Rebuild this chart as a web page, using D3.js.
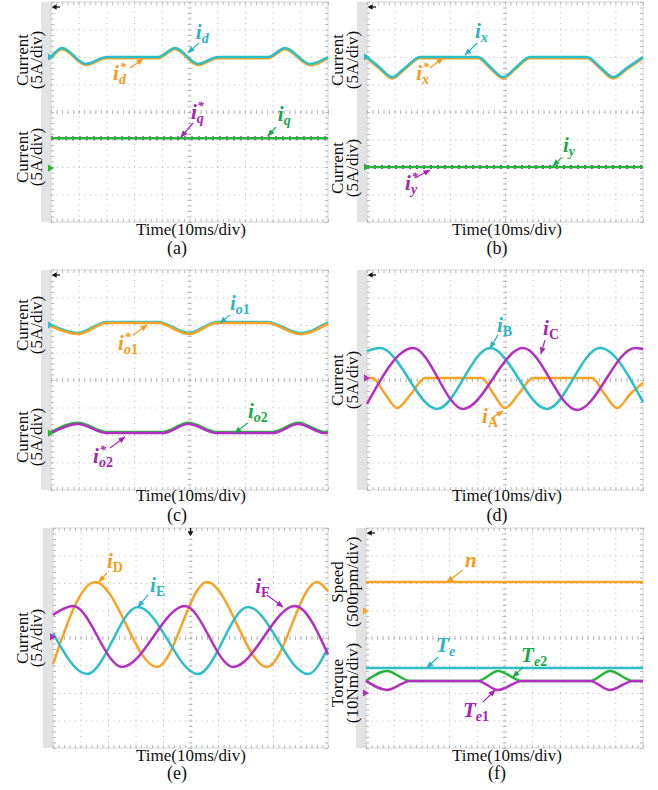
<!DOCTYPE html>
<html>
<head>
<meta charset="utf-8">
<script src="https://cdn.jsdelivr.net/npm/d3@7"></script>
<style>
body { margin: 0; background: #fff; }
svg { display: block; }
text { font-family: "Liberation Serif", "Times New Roman", serif; }
</style>
</head>
<body>
<div id="chart"></div>
<script>
// waveforms: [time (div), level (div from screen centre)]
const id_a = [[0,2.0],[0.4,2.33],[1.26,1.75],[2.02,2.0],[3.86,2.0],[4.48,2.33],[5.31,1.75],[6.03,2.0],[7.83,2.0],[8.45,2.33],[9.35,1.75],[10,2.0]];
const iq_a = [[0,-0.95],[10,-0.95]];

const ix_b = [[0,2.0],[0.45,1.63],[0.91,1.27],[1.4,1.63],[1.92,2.0],[4.02,2.0],[4.47,1.63],[4.93,1.27],[5.4,1.63],[5.9,2.0],[7.97,2.0],[8.45,1.63],[8.91,1.27],[9.45,1.63],[10,2.0]];
const iy_b = [[0,-2.0],[10,-2.0]];

const io1_c = [[0,1.95],[0.97,1.67],[2.02,2.07],[3.86,2.07],[4.98,1.67],[5.99,2.07],[7.8,2.07],[8.99,1.67],[10,2.05]];
const io2_c = [[0,-1.93],[0.97,-1.6],[2.02,-1.93],[4.04,-1.93],[4.95,-1.6],[5.99,-1.93],[8.0,-1.93],[8.92,-1.6],[9.9,-1.93],[10,-1.93]];

const iA_d = [[0,0.07],[0.2,0.07],[0.65,-0.5],[1.09,-1.02],[1.6,-0.5],[2.1,0.07],[4.17,0.07],[4.58,-0.5],[5.0,-1.02],[5.5,-0.5],[6.01,0.07],[8.15,0.07],[8.6,-0.5],[9.06,-1.02],[9.55,-0.5],[10,-0.1]];
const iB_d = [[0,1.05],[0.47,1.16],[2.54,-1.05],[4.46,1.16],[6.52,-1.05],[8.44,1.16],[10,-0.8]];
const iC_d = [[0,-0.87],[1.67,1.16],[3.48,-1.05],[5.65,1.16],[7.61,-1.09],[9.72,1.16],[10,1.12]];

const iD_e = [[0,-0.95],[1.53,2.04],[3.78,-1.05],[5.6,2.04],[7.78,-1.05],[9.6,2.04],[10,1.7]];
const iE_e = [[0,0.18],[1.24,-1.31],[3.09,1.13],[5.27,-1.31],[7.09,1.13],[9.27,-1.31],[10,-0.36]];
const iF_e = [[0,0.84],[0.73,1.16],[2.51,-1.05],[4.8,1.16],[6.55,-1.05],[8.8,1.16],[10,-0.6]];

const n_f = [[0,2.04],[10,2.04]];
const Te_f = [[0,-1.09],[10,-1.09]];
const Te1_f = [[0,-1.56],[0.76,-1.89],[1.59,-1.56],[4.04,-1.56],[4.77,-1.89],[5.63,-1.56],[8.09,-1.56],[8.81,-1.89],[9.64,-1.56],[10,-1.56]];
const Te2_f = [[0,-1.56],[0.76,-1.2],[1.59,-1.56],[4.04,-1.56],[4.77,-1.2],[5.63,-1.56],[8.09,-1.56],[8.81,-1.2],[9.64,-1.56],[10,-1.56]];

const xLabel = "Time(10ms/div)";
const captions = ["(a)","(b)","(c)","(d)","(e)","(f)"];

const C = { cyan: "#2cbfc8", orange: "#f7a325", magenta: "#b22fc1", green: "#27b53c" };
const L = { cyan: "#2ab3c4", orange: "#f59a1c", magenta: "#a425b4", green: "#1aa84a" };

const W = 658, H = 790;
const svg = d3.select("#chart").append("svg").attr("width", W).attr("height", H);

// arrow heads, one per colour
const defs = svg.append("defs");
Object.keys(L).forEach(k => {
  defs.append("marker").attr("id", "ah-" + k)
    .attr("viewBox", "0 0 10 10").attr("refX", 9).attr("refY", 5)
    .attr("markerWidth", 6).attr("markerHeight", 6).attr("orient", "auto")
    .append("path").attr("d", "M0,1 L10,5 L0,9 z").attr("fill", L[k]);
});

const left = { x0: 51, x1: 328, lab1: 28, lab2: 42, tx: 191, cx: 177 };
const right = { x0: 367, x1: 643, lab1: 343, lab2: 358, tx: 507, cx: 497 };

const panels = [
  { ...left, y0: 2, y1: 222, ty: 235, cy: 254, cap: captions[0], trig: "left",
    ylab: [{ t: ["Current","(5A/div)"], c: 60 }, { t: ["Current","(5A/div)"], c: 157 }],
    traces: [{ d: id_a, c: "orange", dy: 1.3 }, { d: id_a, c: "cyan" }, { d: iq_a, c: "magenta", w: 4, dash: "2,5" }, { d: iq_a, c: "green" }],
    gnd: [{ v: 2.0, c: "cyan" }, { v: -2.04, c: "green" }],
    tags: [
      { m: "i", s: [["d",1]], c: "cyan", at: [5.23,2.65], a0: [5.34,2.51], a1: [4.95,2.15] },
      { m: "i", s: [["d",1]], star: 1, c: "orange", at: [2.24,1.16], a0: [2.85,1.6], a1: [3.32,1.93] },
      { m: "i", s: [["q",1]], star: 1, c: "magenta", at: [5.05,-0.25], a0: [5.13,-0.4], a1: [4.69,-0.91] },
      { m: "i", s: [["q",1]], c: "green", at: [8.19,-0.33], a0: [8.12,-0.55], a1: [7.83,-0.87] }
    ] },
  { ...right, y0: 2, y1: 222, ty: 235, cy: 254, cap: captions[1], trig: "left",
    ylab: [{ t: ["Current","(5A/div)"], c: 60 }, { t: ["Current","(5A/div)"], c: 168 }],
    traces: [{ d: ix_b, c: "orange", dy: 1.3 }, { d: ix_b, c: "cyan" }, { d: iy_b, c: "magenta", w: 4, dash: "2,5" }, { d: iy_b, c: "green" }],
    gnd: [{ v: 2.0, c: "cyan" }, { v: -2.0, c: "green" }],
    tags: [
      { m: "i", s: [["x",1]], c: "cyan", at: [3.91,2.69], a0: [3.99,2.51], a1: [3.55,2.07] },
      { m: "i", s: [["x",1]], star: 1, c: "orange", at: [1.78,1.16], a0: [2.28,1.6], a1: [2.75,1.96] },
      { m: "i", s: [["y",1]], c: "green", at: [7.1,-1.45], a0: [7.07,-1.64], a1: [6.74,-1.96] },
      { m: "i", s: [["y",1]], star: 1, c: "magenta", at: [1.38,-2.84], a0: [1.74,-2.4], a1: [2.28,-2.11] }
    ] },
  { ...left, y0: 270, y1: 490, ty: 501, cy: 521, cap: captions[2], trig: "left",
    ylab: [{ t: ["Current","(5A/div)"], c: 325 }, { t: ["Current","(5A/div)"], c: 437 }],
    traces: [{ d: io1_c, c: "cyan", dy: -1.2 }, { d: io1_c, c: "orange" }, { d: io2_c, c: "green", dy: -1.2 }, { d: io2_c, c: "magenta" }],
    gnd: [{ v: 2.0, c: "cyan" }, { v: -1.93, c: "green" }],
    tags: [
      { m: "i", s: [["o",1],["1",0]], c: "cyan", at: [6.46,2.55], a0: [6.46,2.36], a1: [6.1,2.07] },
      { m: "i", s: [["o",1],["1",0]], star: 1, c: "orange", at: [2.42,1.09], a0: [2.96,1.64], a1: [3.47,2.0] },
      { m: "i", s: [["o",1],["2",0]], c: "green", at: [7.11,-1.38], a0: [7.11,-1.56], a1: [6.64,-1.93] },
      { m: "i", s: [["o",1],["2",0]], star: 1, c: "magenta", at: [1.52,-3.02], a0: [2.13,-2.47], a1: [2.67,-2.07] }
    ] },
  { ...right, y0: 270, y1: 490, ty: 501, cy: 521, cap: captions[3], trig: "left",
    ylab: [{ t: ["Current","(5A/div)"], c: 380 }],
    traces: [{ d: iA_d, c: "orange" }, { d: iB_d, c: "cyan" }, { d: iC_d, c: "magenta" }],
    gnd: [{ v: 0.07, c: "magenta" }],
    tags: [
      { m: "i", s: [["B",0]], c: "cyan", at: [4.71,1.75], a0: [4.75,1.64], a1: [4.46,1.16] },
      { m: "i", s: [["C",0]], c: "magenta", at: [6.38,1.64], a0: [6.45,1.45], a1: [6.3,0.95] },
      { m: "i", s: [["A",0]], c: "orange", at: [4.17,-1.56], a0: [4.57,-1.35], a1: [4.93,-1.13] }
    ] },
  { ...left, x0: 53, y0: 528, y1: 748, ty: 761, cy: 779, cap: captions[4], trig: "top",
    ylab: [{ t: ["Current","(5A/div)"], c: 638 }],
    traces: [{ d: iD_e, c: "orange" }, { d: iE_e, c: "cyan" }, { d: iF_e, c: "magenta" }],
    gnd: [{ v: 0.04, c: "magenta" }],
    tags: [
      { m: "i", s: [["D",0]], c: "orange", at: [1.96,2.55], a0: [1.96,2.36], a1: [1.67,2.04] },
      { m: "i", s: [["E",0]], c: "cyan", at: [3.53,1.67], a0: [3.45,1.56], a1: [3.09,1.13] },
      { m: "i", s: [["F",0]], c: "magenta", at: [7.35,1.64], a0: [7.78,1.56], a1: [8.36,1.13] }
    ] },
  { ...right, x0: 366, y0: 528, y1: 748, ty: 761, cy: 779, cap: captions[5], trig: "left",
    ylab: [{ t: ["Speed","(500rpm/div)"], c: 582 }, { t: ["Torque","(10Nm/div)"], c: 683 }],
    traces: [{ d: n_f, c: "orange" }, { d: Te_f, c: "cyan" }, { d: Te2_f, c: "green" }, { d: Te1_f, c: "magenta" }],
    gnd: [{ v: 0.98, c: "orange" }, { v: -2.0, c: "magenta" }],
    tags: [
      { m: "n", s: [], c: "orange", at: [3.57,2.58], a0: [3.5,2.47], a1: [2.92,2.04] },
      { m: "T", s: [["e",1]], c: "cyan", at: [2.53,-0.51], a0: [2.6,-0.69], a1: [2.2,-1.09] },
      { m: "T", s: [["e",1],["2",0]], c: "green", at: [5.6,-0.87], a0: [5.67,-1.05], a1: [5.31,-1.42] },
      { m: "T", s: [["e",1],["1",0]], c: "magenta", at: [3.5,-2.87], a0: [4.22,-2.33], a1: [4.66,-1.89] }
    ] }
];

const gridCol = "#b9b9b9";

panels.forEach(p => {
  const x = d3.scaleLinear().domain([0, 10]).range([p.x0, p.x1]);
  const y = d3.scaleLinear().domain([-4, 4]).range([p.y1, p.y0]);
  const h = p.y1 - p.y0, w = p.x1 - p.x0;
  const g = svg.append("g");
  const step = w / 50;

  // grey strip at the left of the screen
  g.append("rect").attr("x", p.x0 - 10).attr("y", p.y0).attr("width", 10).attr("height", h).attr("fill", "#e3e3e3");
  g.append("rect").attr("x", p.x0).attr("y", p.y0).attr("width", w).attr("height", h)
    .attr("fill", "none").attr("stroke", "#d6d6d6").attr("stroke-width", 1);

  const clean = s => { s.select(".domain").remove(); s.selectAll("text").remove(); s.selectAll("line").attr("stroke", gridCol); };

  // dotted graticule
  g.append("g").attr("transform", `translate(0,${p.y1})`)
    .call(d3.axisBottom(x).tickValues(d3.range(1, 10)).tickSize(-h))
    .call(clean).call(s => s.selectAll("line").attr("stroke-dasharray", `1,${(h / 40 - 1).toFixed(2)}`));
  g.append("g").attr("transform", `translate(${p.x0},0)`)
    .call(d3.axisLeft(y).tickValues(d3.range(-3, 4)).tickSize(-w))
    .call(clean).call(s => s.selectAll("line").attr("stroke-dasharray", `1,${(step - 1).toFixed(2)}`));

  // minor ticks on the centre cross and the frame
  const minorX = d3.range(0, 10.001, 0.2), minorY = d3.range(-4, 4.001, 0.2);
  g.append("g").attr("transform", `translate(0,${y(0) - 2})`).call(d3.axisBottom(x).tickValues(minorX).tickSize(4)).call(clean);
  g.append("g").attr("transform", `translate(${x(5) - 2},0)`).call(d3.axisRight(y).tickValues(minorY).tickSize(4)).call(clean);
  g.append("g").attr("transform", `translate(0,${p.y0})`).call(d3.axisBottom(x).tickValues(minorX).tickSize(3)).call(clean);
  g.append("g").attr("transform", `translate(0,${p.y1})`).call(d3.axisTop(x).tickValues(minorX).tickSize(3)).call(clean);
  g.append("g").attr("transform", `translate(${p.x0},0)`).call(d3.axisRight(y).tickValues(minorY).tickSize(3)).call(clean);
  g.append("g").attr("transform", `translate(${p.x1},0)`).call(d3.axisLeft(y).tickValues(minorY).tickSize(3)).call(clean);

  // traces
  const line = d3.line().x(d => x(d[0])).y(d => y(d[1])).curve(d3.curveMonotoneX);
  p.traces.forEach(t => {
    g.append("path").datum(t.d).attr("d", line)
      .attr("transform", t.dy ? `translate(0,${t.dy})` : null)
      .attr("fill", "none").attr("stroke", C[t.c])
      .attr("stroke-width", t.w || 2.5).attr("stroke-linejoin", "round")
      .attr("stroke-dasharray", t.dash || null);
  });

  // channel ground markers
  p.gnd.forEach(m => {
    g.append("path").attr("d", d3.symbol(d3.symbolTriangle, 22)())
      .attr("transform", `translate(${p.x0 - 1},${y(m.v)}) rotate(90)`).attr("fill", C[m.c]);
  });

  // trigger marker
  if (p.trig === "left") {
    g.append("path").attr("d", d3.symbol(d3.symbolTriangle, 14)())
      .attr("transform", `translate(${p.x0 + 4},${p.y0 + 5}) rotate(-90)`).attr("fill", "#111");
    g.append("line").attr("x1", p.x0 + 4).attr("x2", p.x0 + 9).attr("y1", p.y0 + 5).attr("y2", p.y0 + 5).attr("stroke", "#111").attr("stroke-width", 1.3);
  } else {
    g.append("path").attr("d", d3.symbol(d3.symbolTriangle, 14)())
      .attr("transform", `translate(${x(5)},${p.y0 + 5}) rotate(180)`).attr("fill", "#111");
    g.append("line").attr("x1", x(5)).attr("x2", x(5)).attr("y1", p.y0).attr("y2", p.y0 + 6).attr("stroke", "#111").attr("stroke-width", 1.3);
  }

  // trace labels with arrows (star sits above the subscript, all in one text)
  p.tags.forEach(a => {
    const px = x(a.at[0]), py = y(a.at[1]);
    const t = g.append("text").attr("x", px).attr("y", py).attr("fill", L[a.c])
      .attr("font-weight", "bold").attr("font-style", "italic");
    t.append("tspan").attr("font-size", 21).text(a.m);
    if (a.star) t.append("tspan").attr("font-size", 13).attr("dy", -9).attr("dx", 0.5).text("*");
    a.s.forEach((s, i) => t.append("tspan").attr("font-size", 14)
      .attr("font-style", s[1] ? "italic" : "normal")
      .attr("dy", i === 0 ? (a.star ? 13 : 4) : null)
      .attr("dx", i === 0 && a.star ? -7 : null)
      .text(s[0]));
    g.append("line").attr("x1", x(a.a0[0])).attr("y1", y(a.a0[1]))
      .attr("x2", x(a.a1[0])).attr("y2", y(a.a1[1]))
      .attr("stroke", L[a.c]).attr("stroke-width", 1.2).attr("marker-end", `url(#ah-${a.c})`);
  });

  // axis titles
  p.ylab.forEach(l => {
    [p.lab1, p.lab2].forEach((bx, i) => {
      g.append("text").attr("transform", `translate(${bx},${l.c}) rotate(-90)`)
        .attr("text-anchor", "middle").attr("font-size", 17).attr("fill", "#111").text(l.t[i]);
    });
  });
  g.append("text").attr("x", p.tx).attr("y", p.ty).attr("text-anchor", "middle")
    .attr("font-size", 17).attr("fill", "#111").text(xLabel);
  g.append("text").attr("x", p.cx).attr("y", p.cy).attr("text-anchor", "middle")
    .attr("font-size", 18).attr("fill", "#111").text(p.cap);
});
</script>
</body>
</html>
